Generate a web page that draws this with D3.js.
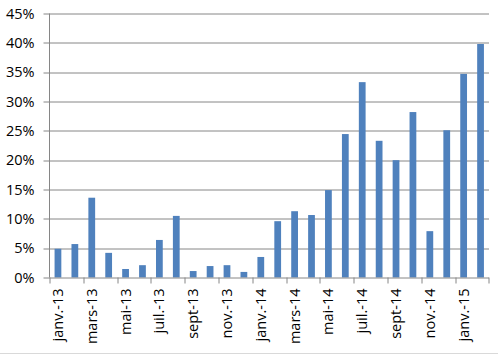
<!DOCTYPE html>
<html>
<head>
<meta charset="utf-8">
<script src="https://cdn.jsdelivr.net/npm/d3@7"></script>
<style>
  body { margin: 0; background: #fff; }
  svg { display: block; font-family: "Open Sans", Lato, sans-serif; }
</style>
</head>
<body>
<svg width="498" height="355"></svg>
<script>
// months Jan 2013 -> Feb 2015
var months = ["janv.-13","févr.-13","mars-13","avr.-13","mai-13","juin-13","juil.-13","août-13","sept-13","oct.-13","nov.-13","déc.-13",
              "janv.-14","févr.-14","mars-14","avr.-14","mai-14","juin-14","juil.-14","août-14","sept-14","oct.-14","nov.-14","déc.-14",
              "janv.-15","févr.-15"];
var values = [4.9, 5.7, 13.6, 4.2, 1.45, 2.1, 6.4, 10.5, 1.1, 1.95, 2.1, 0.95,
              3.5, 9.6, 11.3, 10.65, 14.9, 24.45, 33.3, 23.3, 20.0, 28.2, 7.9, 25.1,
              34.7, 39.8];
var yTicks = [0, 5, 10, 15, 20, 25, 30, 35, 40, 45];

var svg = d3.select("svg");
var margin = {top: 13.5, right: 10, bottom: 77.5, left: 49.5};
var width = 489 - margin.left,
    height = 277.5 - margin.top;

var g = svg.append("g")
    .attr("transform", "translate(" + margin.left + "," + margin.top + ")");

var x = d3.scaleBand()
    .domain(months)
    .range([0, width])
    .paddingInner(0.6)
    .paddingOuter(0.3);

var xb = d3.scaleBand().domain(months).range([0, width]);

var y = d3.scaleLinear()
    .domain([0, 45])
    .range([height, 0]);

var axisColor = "#868686";

// gridlines
g.selectAll(".grid")
    .data(yTicks.slice(1))
    .enter().append("line")
    .attr("x1", -6)
    .attr("x2", width)
    .attr("y1", function(d) { return Math.round(y(d)) + 0.5; })
    .attr("y2", function(d) { return Math.round(y(d)) + 0.5; })
    .style("stroke", axisColor)
    .style("stroke-width", 1);

// y labels
g.selectAll(".ylab")
    .data(yTicks)
    .enter().append("text")
    .attr("x", -15)
    .attr("y", function(d) { return y(d); })
    .attr("dy", ".35em")
    .style("text-anchor", "end")
    .style("font-size", "14.5px")
    .style("fill", "#000")
    .text(function(d) { return d + "%"; });

// bars
g.selectAll(".bar")
    .data(values)
    .enter().append("rect")
    .attr("x", function(d, i) { return x(months[i]); })
    .attr("width", x.bandwidth())
    .attr("y", function(d) { return y(d); })
    .attr("height", function(d) { return height - y(d); })
    .style("fill", "#4F81BD");

// y axis line
g.append("line")
    .attr("x1", 0).attr("x2", 0)
    .attr("y1", 0).attr("y2", height)
    .style("stroke", axisColor);

// x axis line
g.append("line")
    .attr("x1", -6).attr("x2", width)
    .attr("y1", height + 0.5).attr("y2", height + 0.5)
    .style("stroke", axisColor);

// x ticks every 2 months at band boundaries
var tickMonths = months.filter(function(d, i) { return i % 2 == 0; });
g.selectAll(".xtick")
    .data(tickMonths.concat(["end"]))
    .enter().append("line")
    .attr("x1", function(d) { return d == "end" ? width : Math.round(xb(d)) + 0.5; })
    .attr("x2", function(d) { return d == "end" ? width : Math.round(xb(d)) + 0.5; })
    .attr("y1", height)
    .attr("y2", height + 6)
    .style("stroke", axisColor);

// x labels rotated
g.selectAll(".xlab")
    .data(tickMonths)
    .enter().append("text")
    .attr("transform", function(d) {
        return "translate(" + (xb(d) + xb.bandwidth() / 2) + "," + (height + 11) + ") rotate(-90)";
    })
    .attr("dy", ".35em")
    .style("text-anchor", "end")
    .style("font-size", "14.5px")
    .style("fill", "#000")
    .text(function(d) { return d; });

// chart border bottom
svg.append("line")
    .attr("x1", 0).attr("x2", 498)
    .attr("y1", 353.5).attr("y2", 353.5)
    .style("stroke", "#d9d9d9");
</script>
</body>
</html>
